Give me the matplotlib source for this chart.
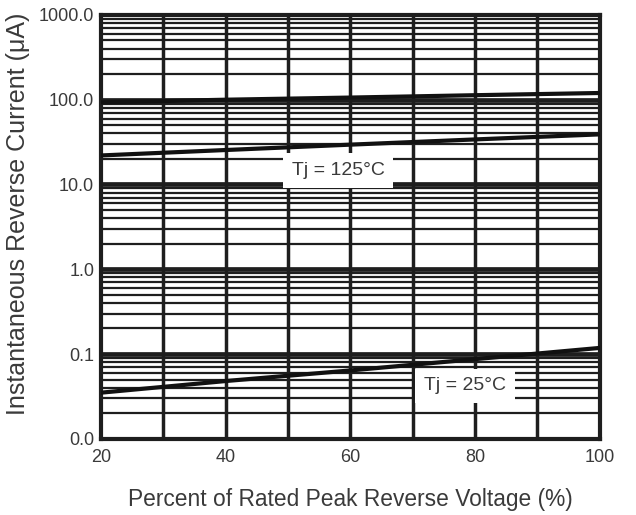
import numpy as np
import matplotlib
matplotlib.use("Agg")
import matplotlib.pyplot as plt
from matplotlib.ticker import FixedLocator, FixedFormatter, NullFormatter

# Data
pct = [20, 40, 60, 80, 100]
upper_curve = [93, 100, 106, 113, 120]        # unlabeled upper curve (uA)
tj125 = [22, 25.5, 29.5, 34, 39]              # Tj = 125 C (uA)
tj25 = [0.035, 0.048, 0.064, 0.087, 0.118]    # Tj = 25 C (uA)

ytick_vals = [0.01, 0.1, 1, 10, 100, 1000]
ytick_labels = ["0.0", "0.1", "1.0", "10.0", "100.0", "1000.0"]
xtick_vals = [20, 40, 60, 80, 100]

plt.rcParams['font.family'] = ['Liberation Sans', 'DejaVu Sans']
fig = plt.figure(figsize=(6.36, 5.15), dpi=100)
ax = fig.add_axes([0.159, 0.148, 0.784, 0.823])
ax.set_yscale('log')
ax.set_xlim(20, 100)
ax.set_ylim(0.01, 1000)

gcol = '#1e1e1e'
# vertical grid lines
for xv in range(30, 100, 10):
    ax.axvline(xv, color=gcol, lw=2.5, zorder=1)
# horizontal grid lines
for d in range(-2, 3):
    for m in range(2, 10):
        ax.axhline(m * 10.0**d, color=gcol, lw=1.6, zorder=1)
for d in range(-1, 3):
    ax.axhline(10.0**d, color=gcol, lw=3.4, zorder=1)

for s in ax.spines.values():
    s.set_linewidth(3.0)
    s.set_color(gcol)

lc = '#111111'
ax.plot(pct, upper_curve, color=lc, lw=3.0, zorder=3)
ax.plot(pct, tj125, color=lc, lw=3.0, zorder=3)
ax.plot(pct, tj25, color=lc, lw=3.0, zorder=3)

tcol = '#3a3a3a'
ax.text(58.0, 14.5, "Tj = 125\u00b0C", fontsize=14, color=tcol, ha='center', va='center',
        zorder=5, bbox=dict(facecolor='white', edgecolor='none', pad=6.5))
ax.text(78.4, 0.042, "Tj = 25\u00b0C", fontsize=14, color=tcol, ha='center', va='center',
        zorder=5, bbox=dict(facecolor='white', edgecolor='none', pad=6.5))

ax.yaxis.set_major_locator(FixedLocator(ytick_vals))
ax.yaxis.set_major_formatter(FixedFormatter(ytick_labels))
ax.yaxis.set_minor_formatter(NullFormatter())
ax.yaxis.set_minor_locator(FixedLocator([]))
ax.set_xticks(xtick_vals)
ax.tick_params(axis='both', length=0, labelsize=13, labelcolor=tcol)
ax.tick_params(axis='y', pad=5)
ax.tick_params(axis='x', pad=7)

ax.set_xlabel("Percent of Rated Peak Reverse Voltage (%)", fontsize=16.4, color=tcol, labelpad=16)
ax.set_ylabel("Instantaneous Reverse Current (\u03bcA)", fontsize=18, color=tcol)
ax.yaxis.set_label_coords(-0.142, 0.53)

fig.savefig("out.png", dpi=100)
